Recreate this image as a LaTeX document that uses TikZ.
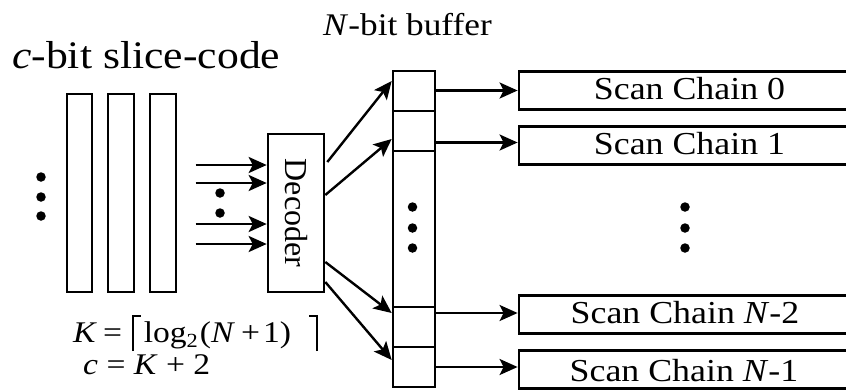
\documentclass[tikz,border=0pt]{standalone}
\usepackage{fontspec}
\setmainfont{Liberation Serif}[FakeStretch=1.12]
\newfontfamily\plainserif{Liberation Serif}
\usetikzlibrary{arrows.meta,calc}
\tikzset{
  blk/.style={draw, line width=2.6pt, inner sep=0pt, fill=white},
  scanbox/.style={draw, line width=2.8pt, inner sep=0pt, minimum width=381pt, minimum height=38pt},
  arr/.style={line width=2.4pt, -{Stealth[length=18pt,width=16pt,inset=4pt]}},
  dotm/.style={circle, fill=black, inner sep=0pt, minimum size=9.5pt},
  lbl/.style={inner sep=0pt, anchor=base},
}
\newcommand{\myceilL}{\rule[-9pt]{1.8pt}{36pt}\rule[25.2pt]{7pt}{1.8pt}}
\newcommand{\myceilR}{\rule[25.2pt]{7pt}{1.8pt}\rule[-9pt]{1.8pt}{36pt}}
\begin{document}
\begin{tikzpicture}[x=1pt,y=-1pt]
\useasboundingbox (0,0) rectangle (846,389);
\clip (0,0) rectangle (846,389);
% title texts
\node[lbl, anchor=base west, font=\fontsize{39}{46}\selectfont] (title) at (12,68) {\textit{c}-bit slice-code};
\node[lbl, anchor=base west, font=\fontsize{31.5}{38}\selectfont] (buftitle) at (323,35) {\textit{N}-bit buffer};
% slice bars
\node[blk, minimum width=25pt, minimum height=198pt] (b1) at (79.5,193) {};
\node[blk, minimum width=26pt, minimum height=198pt] (b2) at (121,193) {};
\node[blk, minimum width=26pt, minimum height=198pt] (b3) at (163,193) {};
\node[dotm] (ld1) at (41,177) {};
\node[dotm] (ld2) at (41,197) {};
\node[dotm] (ld3) at (41,216) {};
% decoder
\node[blk, minimum width=56pt, minimum height=158pt] (dec) at (296,213) {};
\node[rotate=-90, inner sep=0pt, font=\plainserif\fontsize{32}{38}\selectfont] (dectext) at (dec.center) {Decoder};
\draw[arr] ([yshift=48pt,xshift=-71pt]dec.west) -- ([yshift=48pt]dec.west);
\draw[arr] ([yshift=30pt,xshift=-71pt]dec.west) -- ([yshift=30pt]dec.west);
\draw[arr] ([yshift=-11pt,xshift=-71pt]dec.west) -- ([yshift=-11pt]dec.west);
\draw[arr] ([yshift=-31pt,xshift=-71pt]dec.west) -- ([yshift=-31pt]dec.west);
\node[dotm] (md1) at (220,193) {};
\node[dotm] (md2) at (220,213) {};
% buffer
\node[blk, minimum width=42pt, minimum height=40pt] (c0) at (414,91) {};
\node[blk, minimum width=42pt, minimum height=40pt] (c1) at (414,131) {};
\node[blk, minimum width=42pt, minimum height=156pt] (cm) at (414,229) {};
\node[blk, minimum width=42pt, minimum height=40pt] (cN2) at (414,327) {};
\node[blk, minimum width=42pt, minimum height=40pt] (cN1) at (414,367) {};
\node[dotm] (bd1) at (412.5,207) {};
\node[dotm] (bd2) at (412.5,228) {};
\node[dotm] (bd3) at (412.5,248) {};
% decoder -> buffer
\draw[arr] ([xshift=2pt,yshift=51pt]dec.east) -- ([yshift=10pt]c0.west);
\draw[arr] ([yshift=18pt]dec.east) -- ([yshift=-8pt]c1.west);
\draw[arr] ([yshift=-49pt]dec.east) -- ([yshift=14pt]cN2.west);
\draw[arr] ([yshift=-69pt]dec.east) -- ([yshift=7pt]cN1.west);
% scan chains
\node[scanbox] (s0) at (709.5,90.5) {};
\node[scanbox] (s1) at (709.5,145.5) {};
\node[scanbox] (sN2) at (709.5,314.5) {};
\node[scanbox] (sN1) at (709.5,369.5) {};
\node[lbl, font=\fontsize{32}{38}\selectfont] (t0) at (689.5,99.5) {Scan Chain 0};
\node[lbl, font=\fontsize{32}{38}\selectfont] (t1) at (689.5,154) {Scan Chain 1};
\node[lbl, font=\fontsize{32}{38}\selectfont] (tN2) at (685,323) {Scan Chain \textit{N}-2};
\node[lbl, font=\fontsize{32}{38}\selectfont] (tN1) at (684,381) {Scan Chain \textit{N}-1};
\node[dotm] (sd1) at (685,207) {};
\node[dotm] (sd2) at (685,228) {};
\node[dotm] (sd3) at (685,248) {};
% buffer -> scan
\draw[arr] (c0.east |- s0) -- (s0.west);
\draw[arr] ([yshift=3pt]c1.east |- s1) -- ([yshift=3pt]s1.west);
\draw[arr] ([yshift=1.5pt]cN2.east |- sN2) -- ([yshift=1.5pt]sN2.west);
\draw[arr] ([yshift=2.5pt]cN1.east |- sN1) -- ([yshift=2.5pt]sN1.west);
% formulas
\node[lbl, anchor=base west, font=\fontsize{30}{36}\selectfont] (kf) at (73,342) {\textit{K}\hspace{6pt}=\hspace{10pt}\myceilL\hspace{3pt}log\raisebox{-5.5pt}{\fontsize{20}{20}\selectfont 2}\hspace{2pt}(\textit{N}\hspace{6pt}+\hspace{3pt}1)\hspace{18pt}\myceilR};
\node[lbl, anchor=base west, font=\fontsize{30}{36}\selectfont] (cf) at (83,374) {\textit{c} = \textit{K} + 2};
\end{tikzpicture}
\end{document}
